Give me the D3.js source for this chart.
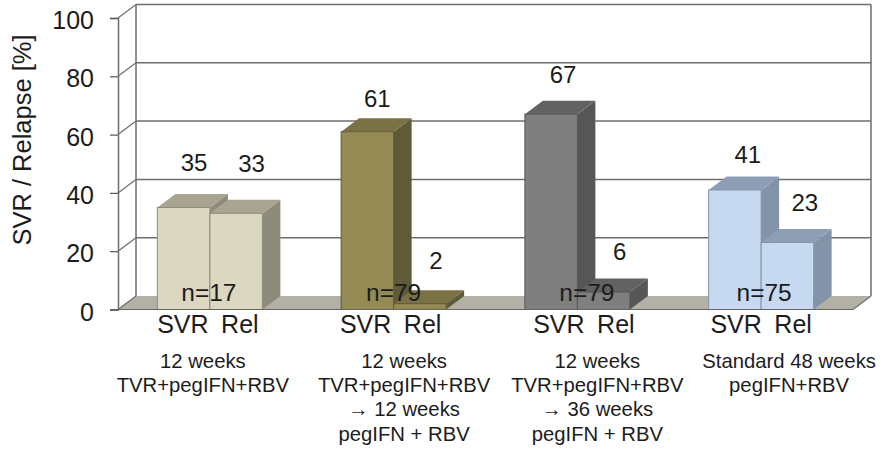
<!DOCTYPE html>
<html>
<head>
<meta charset="utf-8">
<title>SVR / Relapse</title>
<script src="https://cdn.jsdelivr.net/npm/d3@7"></script>
<style>
html, body { margin: 0; padding: 0; background: #fff; }
svg { display: block; }
text { font-family: "Liberation Sans", Arial, sans-serif; fill: #1c1c1c; }
</style>
</head>
<body>
<div id="chart"></div>
<script>
// values
var groups = ["g1", "g2", "g3", "g4"];
var seriesNames = ["SVR", "Rel"];
var svrValues = [35, 61, 67, 41];
var relValues = [33, 2, 6, 23];
var nLabels = ["n=17", "n=79", "n=79", "n=75"];
var yTicks = [0, 20, 40, 60, 80, 100];
var groupLabels = [
    ["12 weeks", "TVR+pegIFN+RBV"],
    ["12 weeks", "TVR+pegIFN+RBV", "\u2192  12 weeks", "pegIFN + RBV"],
    ["12 weeks", "TVR+pegIFN+RBV", "\u2192  36 weeks", "pegIFN + RBV"],
    ["Standard 48 weeks", "pegIFN+RBV"]
];
var frontColors = ["#dcd7c1", "#948a54", "#7f7f7f", "#c6d9f1"];
var topColors = ["#a8a491", "#7a7245", "#626262", "#8e9fb5"];
var sideColors = ["#8d8b79", "#5f5a38", "#565656", "#8394a9"];

var width = 881, height = 450;
var depthX = 18, depthY = 13.5;

var svg = d3.select("#chart").append("svg")
    .attr("width", width)
    .attr("height", height);

var x = d3.scaleBand().domain(groups).range([118, 853]);
var inner = d3.scaleBand().domain(seriesNames)
    .range([-52.5, 52.5]);
var y = d3.scaleLinear().domain([0, 100]).range([309.5, 18]);

var gridColor = "#6e6e6e";

// floor
svg.append("polygon")
    .attr("points", [
        [x.range()[0], y(0)], [x.range()[1], y(0)],
        [x.range()[1] + depthX, y(0) - depthY], [x.range()[0] + depthX, y(0) - depthY]
    ].join(" "))
    .attr("fill", "#b3b1a6");

// back wall gridlines + the diagonal bit on the left wall
yTicks.forEach(function(t) {
    if (t > 0) {
        svg.append("line")
            .attr("x1", x.range()[0] + depthX).attr("x2", x.range()[1] + depthX)
            .attr("y1", y(t) - depthY).attr("y2", y(t) - depthY)
            .attr("stroke", gridColor).attr("stroke-width", 1.5);
    }
    svg.append("line")
        .attr("x1", x.range()[0]).attr("x2", x.range()[0] + depthX)
        .attr("y1", y(t)).attr("y2", y(t) - depthY)
        .attr("stroke", gridColor).attr("stroke-width", 1.2);
});

// wall verticals
svg.append("line")
    .attr("x1", x.range()[0] + depthX).attr("x2", x.range()[0] + depthX)
    .attr("y1", y(100) - depthY).attr("y2", y(0) - depthY)
    .attr("stroke", gridColor).attr("stroke-width", 1.5);
svg.append("line")
    .attr("x1", x.range()[1] + depthX).attr("x2", x.range()[1] + depthX)
    .attr("y1", y(100) - depthY).attr("y2", y(0) - depthY)
    .attr("stroke", gridColor).attr("stroke-width", 1.5);
svg.append("line")
    .attr("x1", x.range()[1]).attr("x2", x.range()[1] + depthX)
    .attr("y1", y(0)).attr("y2", y(0) - depthY)
    .attr("stroke", gridColor).attr("stroke-width", 1.2);

function drawBar(i, name, value) {
    var cx = x(groups[i]) + x.bandwidth() / 2;
    var x0 = cx + inner(name), x1 = x0 + inner.bandwidth();
    var y0 = y(0), y1 = y(value);
    var g = svg.append("g").attr("class", "bar");
    g.append("polygon")
        .attr("points", [[x1, y1], [x1 + depthX, y1 - depthY], [x1 + depthX, y0 - depthY], [x1, y0]].join(" "))
        .attr("fill", sideColors[i]);
    g.append("polygon")
        .attr("points", [[x0, y1], [x0 + depthX, y1 - depthY], [x1 + depthX, y1 - depthY], [x1, y1]].join(" "))
        .attr("fill", topColors[i]);
    g.append("rect")
        .attr("x", x0).attr("y", y1)
        .attr("width", x1 - x0).attr("height", y0 - y1)
        .attr("fill", frontColors[i])
        .attr("stroke", sideColors[i]).attr("stroke-width", 1);
}

groups.forEach(function(g, i) {
    drawBar(i, "SVR", svrValues[i]);
    drawBar(i, "Rel", relValues[i]);
});

// front baseline, over the floor
svg.append("line")
    .attr("x1", x.range()[0] - 8).attr("x2", x.range()[1])
    .attr("y1", y(0)).attr("y2", y(0))
    .attr("stroke", "#666").attr("stroke-width", 1.2);

// y axis
var yAxis = d3.axisLeft(y).tickValues(yTicks).tickSize(8).tickPadding(16);
var yG = svg.append("g")
    .attr("transform", "translate(" + x.range()[0] + ",0)")
    .call(yAxis);
yG.select(".domain").attr("stroke", gridColor).attr("stroke-width", 1.5);
yG.selectAll(".tick line").attr("stroke", "#555").attr("stroke-width", 1.2);
yG.selectAll(".tick text")
    .attr("dy", "10.5px")
    .style("font-size", "25px")
    .style("font-family", '"Liberation Sans", Arial, sans-serif')
    .attr("fill", "#1c1c1c");

svg.append("text")
    .attr("transform", "translate(31,140) rotate(-90)")
    .attr("text-anchor", "middle")
    .style("font-size", "25.5px")
    .text("SVR / Relapse [%]");

// the value labels were placed by hand in the original, nudged per bar
var svrNudge = [[10.5, -36], [10, -25], [12, -31.5], [13, -27]];
var relNudge = [[15.5, -41.5], [16, -35], [16, -32], [17.5, -31]];

function valueLabel(i, name, value, nudge) {
    var cx = x(groups[i]) + x.bandwidth() / 2 + inner(name) + inner.bandwidth() / 2;
    svg.append("text")
        .attr("x", cx + nudge[0])
        .attr("y", y(value) + nudge[1])
        .attr("text-anchor", "middle")
        .style("font-size", "24px")
        .text(value);
}

groups.forEach(function(g, i) {
    var cx = x(g) + x.bandwidth() / 2;
    valueLabel(i, "SVR", svrValues[i], svrNudge[i]);
    valueLabel(i, "Rel", relValues[i], relNudge[i]);

    var nDx = [-1, 0, 9.5, 3][i];
    svg.append("text")
        .attr("x", cx + nDx).attr("y", 301)
        .attr("text-anchor", "middle")
        .style("font-size", "24.5px")
        .text(nLabels[i]);

    var catDx = [-1, -2, 7.5, 1][i];
    seriesNames.forEach(function(name, k) {
        svg.append("text")
            .attr("x", cx + catDx + (k === 0 ? -26 : 31))
            .attr("y", 333)
            .attr("text-anchor", "middle")
            .style("font-size", "25px")
            .text(name);
    });

    var lblDx = [-7, 10.5, 20, 28][i];
    groupLabels[i].forEach(function(line, k) {
        svg.append("text")
            .attr("x", cx + lblDx)
            .attr("y", 368 + k * 24.2)
            .attr("text-anchor", "middle")
            .style("font-size", "20.3px")
            .text(line);
    });
});
</script>
</body>
</html>
